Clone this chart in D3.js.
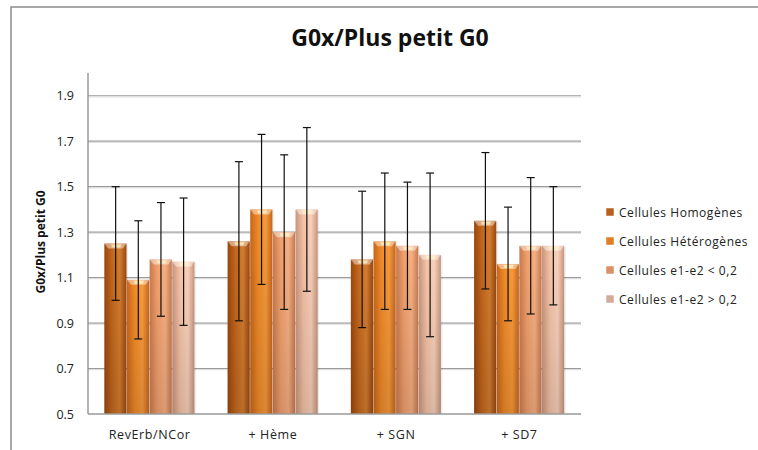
<!DOCTYPE html>
<html><head><meta charset="utf-8">
<script src="https://cdn.jsdelivr.net/npm/d3@7"></script>
<style>body{margin:0;background:#fff;} svg{display:block;}</style>
</head><body>
<svg id="c" width="758" height="450"></svg>
<script>
const categories = ["RevErb/NCor", "+ Hème", "+ SGN", "+ SD7"];
const seriesNames = ["Cellules Homogènes", "Cellules Hétérogènes", "Cellules e1-e2 < 0,2", "Cellules e1-e2 > 0,2"];
const homogenes   = [1.25, 1.26, 1.18, 1.35];
const heterogenes = [1.09, 1.40, 1.26, 1.16];
const inf02       = [1.18, 1.30, 1.24, 1.24];
const sup02       = [1.17, 1.40, 1.20, 1.24];
const errHomogenes   = [0.25, 0.35, 0.30, 0.30];
const errHeterogenes = [0.26, 0.33, 0.30, 0.25];
const errInf02       = [0.25, 0.34, 0.28, 0.30];
const errSup02       = [0.28, 0.36, 0.36, 0.26];
const yTicks = [0.5, 0.7, 0.9, 1.1, 1.3, 1.5, 1.7, 1.9];

const values = [homogenes, heterogenes, inf02, sup02];
const errors = [errHomogenes, errHeterogenes, errInf02, errSup02];
const colors = [
  {dark:"#9a470e", mid:"#c4671c", light:"#d47d30", sw:"#b5601f"},
  {dark:"#c8661a", mid:"#f08a28", light:"#f79a3c", sw:"#e07f25"},
  {dark:"#c97a4e", mid:"#f2a06c", light:"#f7b084", sw:"#d99265"},
  {dark:"#c9967e", mid:"#f5c2a6", light:"#f9d2bc", sw:"#d4ab98"}
];
const FONT = "'Open Sans', sans-serif";

const svg = d3.select("#c");
const defs = svg.append("defs");
colors.forEach((c,i)=>{
  const g = defs.append("linearGradient").attr("id","g"+i).attr("x1","0").attr("x2","1").attr("y1","0").attr("y2","0");
  g.append("stop").attr("offset","0%").attr("stop-color",c.dark);
  g.append("stop").attr("offset","35%").attr("stop-color",c.mid);
  g.append("stop").attr("offset","70%").attr("stop-color",c.light);
  g.append("stop").attr("offset","100%").attr("stop-color",c.dark);
  const v = defs.append("linearGradient").attr("id","v"+i).attr("x1","0").attr("x2","0").attr("y1","0").attr("y2","1");
  v.append("stop").attr("offset","0%").attr("stop-color","#000").attr("stop-opacity",0);
  v.append("stop").attr("offset","100%").attr("stop-color","#000").attr("stop-opacity",0.12);
});

// outer frame
svg.append("path").attr("d","M11,450 V7 H758").attr("fill","none").attr("stroke","#8c8c8c").attr("stroke-width",1.5);

const m = {l:88, r:581, t:73, b:414};
const y = d3.scaleLinear().domain([0.5, 2.0]).range([m.b, m.t]);
const x0 = d3.scaleBand().domain(categories).range([m.l, m.r]).paddingInner(0.265).paddingOuter(0.1325);
const x1 = d3.scaleBand().domain(d3.range(4)).range([0, x0.bandwidth()]).padding(0);

// gridlines
svg.append("g").selectAll("line").data(yTicks.slice(1)).join("line")
  .attr("x1", m.l).attr("x2", m.r).attr("y1", d=>y(d)).attr("y2", d=>y(d))
  .attr("stroke","#9a9a9a").attr("stroke-width",1.2);
svg.append("g").selectAll("line").data(yTicks.slice(1)).join("line")
  .attr("x1", m.l).attr("x2", m.r).attr("y1", d=>y(d)+1.2).attr("y2", d=>y(d)+1.2)
  .attr("stroke","#dcdcdc").attr("stroke-width",1);

// y axis
const yAxis = d3.axisLeft(y).tickValues(yTicks).tickSize(0).tickPadding(14).tickFormat(d3.format(".1f"));
const ga = svg.append("g").attr("transform",`translate(${m.l},0)`).call(yAxis);
ga.select(".domain").remove();
ga.selectAll("text").attr("font-family",FONT).attr("font-size","12.5px").attr("fill","#222");
svg.append("line").attr("x1",m.l).attr("x2",m.l).attr("y1",m.t).attr("y2",m.b).attr("stroke","#8c8c8c").attr("stroke-width",1.3);

// x axis
const xAxis = d3.axisBottom(x0).tickSize(0).tickPadding(16);
const gx = svg.append("g").attr("transform",`translate(0,${m.b})`).call(xAxis);
gx.select(".domain").remove();
gx.selectAll("text").attr("font-family",FONT).attr("font-size","12.5px").attr("letter-spacing","0.6px").attr("fill","#222");

// bars
const data = [];
categories.forEach((c,ci)=>values.forEach((s,si)=>data.push({c, si, v:s[ci], e:errors[si][ci]})));
const bars = svg.append("g");
const bw = x1.bandwidth();
data.forEach(d=>{
  const bx = x0(d.c) + x1(d.si);
  const by = y(d.v);
  const h = m.b - by;
  bars.append("rect").attr("x",bx+1).attr("y",by+1).attr("width",bw).attr("height",h-1).attr("fill","#000").attr("opacity",0.08);
  bars.append("rect").attr("x",bx).attr("y",by).attr("width",bw-0.5).attr("height",h).attr("fill",`url(#g${d.si})`);
  bars.append("rect").attr("x",bx).attr("y",by).attr("width",bw-0.5).attr("height",h).attr("fill",`url(#v${d.si})`);
  bars.append("path").attr("d",`M${bx},${by} H${bx+bw-0.5} L${bx+bw-4},${by+5} H${bx+4} Z`)
    .attr("fill","#fff").attr("opacity",0.45);
  bars.append("path").attr("d",`M${bx+bw*0.3},${by+1} H${bx+bw*0.75} L${bx+bw*0.7},${by+4} H${bx+bw*0.35} Z`)
    .attr("fill","#fff3c0").attr("opacity",0.7);
});
svg.append("line").attr("x1",m.l).attr("x2",m.r).attr("y1",m.b).attr("y2",m.b).attr("stroke","#9a9a9a").attr("stroke-width",1.3);

// error bars
const eb = svg.append("g").attr("stroke","#111").attr("stroke-width",1.2);
data.forEach(d=>{
  const cx = x0(d.c) + x1(d.si) + bw/2;
  const yt = y(d.v + d.e), yb = y(d.v - d.e);
  eb.append("line").attr("x1",cx).attr("x2",cx).attr("y1",yt).attr("y2",yb);
  eb.append("line").attr("x1",cx-4).attr("x2",cx+4).attr("y1",yt).attr("y2",yt);
  eb.append("line").attr("x1",cx-4).attr("x2",cx+4).attr("y1",yb).attr("y2",yb);
});

// title
svg.append("text").attr("x",390).attr("y",46).attr("text-anchor","middle")
  .attr("font-family",FONT).attr("font-weight","bold").attr("font-size","23px").attr("fill","#111")
  .text("G0x/Plus petit G0");

// y title
svg.append("text").attr("transform","translate(45,242) rotate(-90)").attr("text-anchor","middle")
  .attr("font-family",FONT).attr("font-weight","bold").attr("font-size","12px").attr("fill","#111")
  .text("G0x/Plus petit G0");

// legend
const lg = svg.append("g");
seriesNames.forEach((n,i)=>{
  const ly = 213 + i*29;
  lg.append("rect").attr("x",606).attr("y",ly-5).attr("width",8).attr("height",8).attr("fill",colors[i].sw).attr("stroke","#fff").attr("stroke-width",0.5);
  lg.append("text").attr("x",619).attr("y",ly+4).attr("font-family",FONT).attr("font-size","12px").attr("letter-spacing","0.55px").attr("fill","#222").text(n);
});
</script>
</body></html>
